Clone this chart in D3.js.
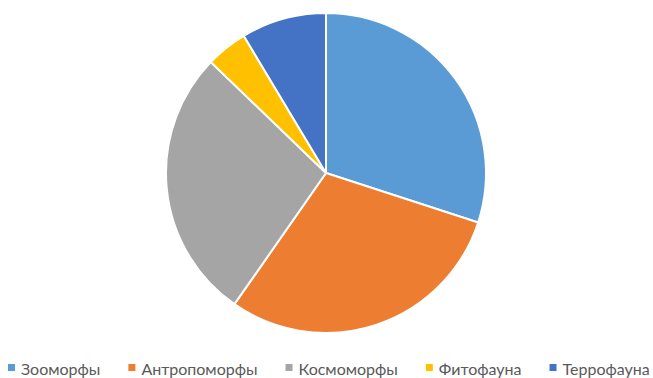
<!DOCTYPE html>
<html><head><meta charset="utf-8">
<script src="https://cdn.jsdelivr.net/npm/d3@7"></script>
<style>html,body{margin:0;padding:0;background:#fff;overflow:hidden}</style>
</head><body>
<svg id="chart" width="653" height="378"></svg>
<script>
const categories = ["Зооморфы", "Антропоморфы", "Космоморфы", "Фитофауна", "Террофауна"];
const values = [30.0, 29.7, 27.5, 4.2, 8.6];
const colors = ["#5B9BD5", "#ED7D31", "#A5A5A5", "#FFC000", "#4472C4"];

const svg = d3.select("#chart");
const cx = 326, cy = 173, r = 160;
const data = categories.map((c, i) => ({cat: c, value: values[i], color: colors[i]}));
const pie = d3.pie().value(d => d.value).sort(null);
const arc = d3.arc().innerRadius(0).outerRadius(r);

svg.append("g").attr("transform", `translate(${cx},${cy})`)
  .selectAll("path").data(pie(data)).join("path")
  .attr("d", arc).attr("fill", d => d.data.color)
  .attr("stroke", "#fff").attr("stroke-width", 2).attr("stroke-linejoin", "round");

const legend = svg.append("g").attr("class", "legend");
let x = 8;
const gap = 28;
data.forEach(d => {
  const g = legend.append("g");
  g.append("rect").attr("x", x).attr("y", 364).attr("width", 7).attr("height", 7).attr("fill", d.color);
  const t = g.append("text").attr("x", x + 13).attr("y", 375)
    .attr("font-family", "Lato, 'Open Sans', sans-serif").attr("font-size", 16)
    .attr("fill", "#595959").text(d.cat);
  x += 13 + t.node().getComputedTextLength() + gap;
});
</script>
</body></html>
